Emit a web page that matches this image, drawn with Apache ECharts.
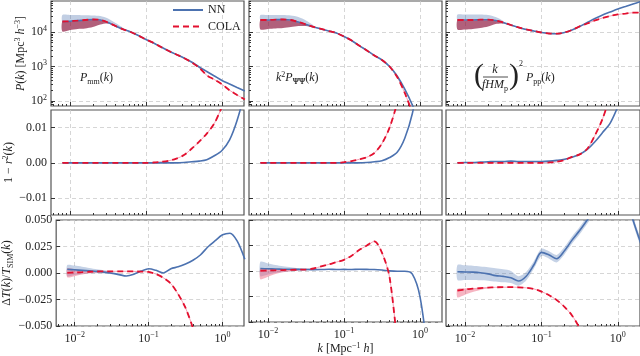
<!DOCTYPE html>
<html>
<head>
<meta charset="utf-8">
<script src="https://cdn.jsdelivr.net/npm/echarts@6/dist/echarts.min.js"></script>
<style>
  html, body { margin: 0; padding: 0; background: #fff; }
  #chart { width: 640px; height: 356px; }
</style>
</head>
<body>
<div id="chart"></div>
<script>
const SERIF = "'Liberation Serif', 'DejaVu Serif', serif";

// wavenumber grid (Mpc^-1 h)
const k = [0.00794, 0.01, 0.0126, 0.0158, 0.02, 0.0251, 0.0316, 0.0398, 0.0501, 0.0631,
  0.0794, 0.1, 0.126, 0.158, 0.2, 0.251, 0.316, 0.398, 0.501, 0.631, 0.794, 1, 1.26, 1.58, 2.0];

// tick values
const xMajor = [0.01, 0.1, 1];
const xMinor = [0.006, 0.007, 0.008, 0.009, 0.02, 0.03, 0.04, 0.05, 0.06, 0.07, 0.08, 0.09,
  0.2, 0.3, 0.4, 0.5, 0.6, 0.7, 0.8, 0.9];
const pMajor = [100, 1000, 10000];
const pMinor = [80, 90, 200, 300, 400, 500, 600, 700, 800, 900, 2000, 3000, 4000, 5000, 6000,
  7000, 8000, 9000, 20000, 30000, 40000, 50000, 60000, 70000, 80000];
const rTicks = [-0.01, 0, 0.01];
const tTicks = [-0.05, -0.025, 0, 0.025, 0.05];

// row 1: power spectra
const pmmNN = [20600, 21000, 21800, 22800, 23600, 22800, 19300, 15200, 12200, 10200, 8070, 6170,
  4880, 3730, 2860, 2260, 1790, 1360, 977, 723, 535, 395, 313, 247, 195];
const pmmCOLA = [20600, 21000, 21800, 22800, 23600, 22800, 19300, 15200, 12200, 10200, 8070, 6170,
  4880, 3730, 2860, 2260, 1790, 1340, 930, 560, 420, 305, 205, 150, 110];
const pmmNNHi = [31900, 31900, 31900, 31300, 30800, 29800, 25200, 18700, 13300];
const pmmCOLALo = [10550, 11700, 12500, 12900, 14300, 16900, 18000, 14300, 11700];

const ppsiNN = [22800, 22800, 23300, 23600, 22800, 19950, 16900, 14300, 12500, 10900, 9550, 7550,
  5770, 4110, 2960, 2110, 1560, 1010, 535, 223, 76.6, 20];
const ppsiCOLA = [22800, 22800, 23300, 23600, 22800, 19950, 16900, 14300, 12500, 10900, 9550, 7550,
  5770, 4110, 2960, 2110, 1560, 1010, 500, 171, 44.8, 10];
const ppsiNNHi = [31900, 31900, 31900, 31900, 30800, 27900, 22100, 15800];
const ppsiCOLALo = [12100, 12500, 12900, 13300, 14300, 15200, 15200, 13800];

const pppNN = [22800, 22800, 22800, 23300, 23300, 22100, 19300, 16300, 13800, 12100, 10900, 9860,
  9230, 9100, 9860, 11700, 14800, 19300, 25200, 31900, 39000, 47600, 56400, 66700, 78900];
const pppCOLA = [22800, 22800, 22800, 23300, 23300, 22100, 19300, 16300, 13800, 12100, 10900, 9860,
  9230, 9100, 9860, 11700, 14800, 18000, 22100, 26100, 29900, 33000, 35200, 37200, 37700];
const pppNNHi = [33000, 33000, 33000, 33000, 31900, 27900, 21300];
const pppCOLALo = [12100, 12100, 12500, 13300, 14800, 17500, 18000, 15800];

// row 2: 1 - r^2
const rmmNN = [0, 0, 0, 0, 0, 0, 0, 0, 0, 0, 0, 0, 0, 0, 0, 0, 0.0001, 0.0003, 0.0005, 0.0009,
  0.0020, 0.0035, 0.0065, 0.0120, 0.0200];
const rmmCOLA = [0, 0, 0, 0, 0, 0, 0, 0, 0, 0, 0, 0, 0.0001, 0.0003, 0.0006, 0.0012, 0.0022,
  0.0040, 0.0060, 0.0083, 0.0112, 0.0160, 0.0220];
const rpsiNN = [0, 0, 0, 0, 0, 0, 0, 0, 0, 0, 0, 0, 0, 0, 0.0001, 0.0003, 0.0006, 0.0015, 0.0030,
  0.0070, 0.0140, 0.0260];
const rpsiCOLA = [0, 0, 0, 0, 0, 0, 0, 0, 0, 0, 0, 0.0002, 0.0005, 0.0010, 0.0016, 0.0028, 0.0055,
  0.0100, 0.0170, 0.0260];
const rppNN = [0, 0.0001, 0.0001, 0.0002, 0.0003, 0.0004, 0.0004, 0.0005, 0.0004, 0.0004, 0.0004,
  0.0004, 0.0005, 0.0007, 0.0010, 0.0016, 0.0024, 0.0038, 0.0060, 0.0086, 0.0113, 0.0160, 0.0220];
const rppCOLA = [0, 0, 0, 0, 0, 0, 0, 0, 0, 0, 0, 0, 0.0001, 0.0003, 0.0008, 0.0017, 0.0024,
  0.0040, 0.0078, 0.0125, 0.0190];

// row 3: transfer function error
const tmmNN = [0.0035, 0.0030, 0.0025, 0.0020, 0.0015, 0.0008, -0.0002, -0.0015, -0.0028, -0.0012,
  0.0018, 0.0040, 0.0025, 0.0000, 0.0040, 0.0058, 0.0085, 0.0120, 0.0170, 0.0245, 0.0305, 0.0360,
  0.0375, 0.0300, 0.0130];
const tmmCOLA = [0.0002, 0.0005, 0.0008, 0.0012, 0.0014, 0.0015, 0.0016, 0.0016, 0.0016, 0.0015,
  0.0013, 0.0010, -0.0010, -0.0045, -0.0100, -0.0200, -0.0330, -0.0520, -0.0750];
const tmmNNLo = [-0.0030, -0.0020, -0.0010, -0.0003, -0.0003, -0.0005, -0.0012, -0.0022];
const tmmNNHi = [0.0075, 0.0070, 0.0060, 0.0048, 0.0035, 0.0025, 0.0010, -0.0008];
const tmmCOLALo = [-0.0040, -0.0030, -0.0015, -0.0003, 0.0005, 0.0010];
const tmmCOLAHi = [0.0045, 0.0035, 0.0025, 0.0022, 0.0020, 0.0019];

const tpsiNN = [0.0025, 0.0022, 0.0020, 0.0018, 0.0017, 0.0016, 0.0015, 0.0014, 0.0015, 0.0017,
  0.0015, 0.0016, 0.0015, 0.0018, 0.0016, 0.0015, 0.0010, 0.0002, -0.0002, -0.0002, -0.0030,
  -0.0250, -0.0800];
const tpsiCOLA = [0.0003, 0.0006, 0.0008, 0.0010, 0.0012, 0.0013, 0.0015, 0.0025, 0.0045, 0.0065,
  0.0088, 0.0110, 0.0150, 0.0205, 0.0250, 0.0290, 0.0180, -0.0060, -0.0700];
const tpsiNNLo = [-0.0050, -0.0035, -0.0020, -0.0010, -0.0003, 0.0002, 0.0005, 0.0008];
const tpsiNNHi = [0.0090, 0.0075, 0.0060, 0.0048, 0.0038, 0.0030, 0.0025, 0.0020];
const tpsiCOLALo = [-0.0080, -0.0055, -0.0030, -0.0012, -0.0002, 0.0005];
const tpsiCOLAHi = [0.0025, 0.0022, 0.0020, 0.0018, 0.0017, 0.0018];

const tppNN = [0.0012, 0.0010, 0.0008, 0.0003, -0.0008, -0.0025, -0.0032, -0.0045, -0.0075, -0.0030,
  0.0075, 0.0195, 0.0170, 0.0135, 0.0210, 0.0310, 0.0400, 0.0500, 0.0600, 0.0700, 0.0800, 0.0850,
  0.0750, 0.0500, 0.0280];
const tppCOLA = [-0.0165, -0.0155, -0.0148, -0.0142, -0.0138, -0.0135, -0.0134, -0.0134, -0.0135,
  -0.0140, -0.0150, -0.0175, -0.0210, -0.0255, -0.0320, -0.0400, -0.0520, -0.0680];
const tppNNLo = [-0.0065, -0.0066, -0.0066, -0.0068, -0.0072, -0.0080, -0.0088, -0.0095, -0.0120,
  -0.0070, 0.0040, 0.0160, 0.0135, 0.0100, 0.0175, 0.0275, 0.0365, 0.0465, 0.0565, 0.0665, 0.0765,
  0.0815, 0.0715, 0.0465, 0.0250];
const tppNNHi = [0.0075, 0.0072, 0.0068, 0.0062, 0.0055, 0.0045, 0.0035, 0.0020, -0.0030, 0.0010,
  0.0110, 0.0230, 0.0205, 0.0170, 0.0245, 0.0345, 0.0435, 0.0535, 0.0635, 0.0735, 0.0835, 0.0885,
  0.0785, 0.0535, 0.0310];
const tppCOLALo = [-0.0230, -0.0205, -0.0180, -0.0160, -0.0145];
const tppCOLAHi = [-0.0150, -0.0145, -0.0142, -0.0138, -0.0135];

const panels = [
  [
    { nn: pmmNN, cola: pmmCOLA, nnBand: [pmmNN.slice(0, pmmNNHi.length), pmmNNHi], colaBand: [pmmCOLALo, pmmCOLA.slice(0, pmmCOLALo.length)] },
    { nn: ppsiNN, cola: ppsiCOLA, nnBand: [ppsiNN.slice(0, ppsiNNHi.length), ppsiNNHi], colaBand: [ppsiCOLALo, ppsiCOLA.slice(0, ppsiCOLALo.length)] },
    { nn: pppNN, cola: pppCOLA, nnBand: [pppNN.slice(0, pppNNHi.length), pppNNHi], colaBand: [pppCOLALo, pppCOLA.slice(0, pppCOLALo.length)] }
  ],
  [
    { nn: rmmNN, cola: rmmCOLA },
    { nn: rpsiNN, cola: rpsiCOLA },
    { nn: rppNN, cola: rppCOLA }
  ],
  [
    { nn: tmmNN, cola: tmmCOLA, nnBand: [tmmNNLo, tmmNNHi], colaBand: [tmmCOLALo, tmmCOLAHi] },
    { nn: tpsiNN, cola: tpsiCOLA, nnBand: [tpsiNNLo, tpsiNNHi], colaBand: [tpsiCOLALo, tpsiCOLAHi] },
    { nn: tppNN, cola: tppCOLA, nnBand: [tppNNLo, tppNNHi], colaBand: [tppCOLALo, tppCOLAHi] }
  ]
];

// layout
const colLeft = [51, 249, 446];
const colWidth = [193, 193, 194];
const rowTop = [1, 110, 220];
const rowHeight = [105, 105, 106];
const xMin = 0.005623, xMax = 1.95;

const BLUE = '#4c72b0', RED = '#e3102f', PINK = '#f5a0b4';
const nnBandColor = ['rgba(76,114,176,0.35)', null, 'rgba(76,114,176,0.32)'];
const colaBandColor = ['rgba(140,20,60,0.68)', null, 'rgba(235,90,120,0.45)'];

const rich = {
  s: { fontSize: 8, fontFamily: SERIF, padding: [0, 0, 7, 0], color: '#222' },
  sb: { fontSize: 8, fontFamily: SERIF, padding: [7, 0, 0, 0], color: '#222' },
  sbb: { fontSize: 8, fontFamily: SERIF, fontWeight: 'bold', padding: [7, 0, 0, 0], color: '#222' },
  i: { fontSize: 12, fontFamily: SERIF, fontStyle: 'italic', color: '#222' }
};
const minus = s => s.replace('-', '\u2212');
const expLabel = v => '10{s|' + minus(String(Math.round(Math.log10(v)))) + '}';

const grids = [], xAxes = [], yAxes = [], xMinorAxes = [], yMinorAxes = [], series = [];
const gridLine = { show: true, lineStyle: { color: '#cccccc', type: [4, 3], width: 0.8 } };
const tickStyle = { color: '#333', width: 1 };

const yNames = [
  '{i|P}({i|k}) [Mpc{s|3} {i|h}{s|\u22123}]',
  '1 \u2212 {i|r}{s|2}({i|k})',
  '\u0394{i|T}({i|k})/{i|T}{sb|SIM}({i|k})'
];
const yNameGap = [12, 29, 29];

const pts = arr => arr.map((v, i) => [k[i], v]);

for (let r = 0; r < 3; r++) {
  for (let c = 0; c < 3; c++) {
    const gi = r * 3 + c;
    grids.push({
      left: colLeft[c], top: rowTop[r], width: colWidth[c], height: rowHeight[r],
      show: true, borderColor: '#555', borderWidth: 1.2
    });
    xAxes.push({
      type: 'log', gridIndex: gi, min: xMin, max: xMax, position: 'bottom',
      axisLine: { show: false, onZero: false },
      axisTick: { inside: true, length: 4, customValues: xMajor, lineStyle: tickStyle },
      axisLabel: {
        show: r === 2, customValues: xMajor, formatter: expLabel, margin: 5,
        fontFamily: SERIF, fontSize: 12, color: '#222', rich: rich
      },
      splitLine: gridLine,
      name: (r === 2 && c === 1) ? '{i|k} [Mpc{s|\u22121} {i|h}]' : '',
      nameLocation: 'middle', nameGap: 19,
      nameTextStyle: { fontFamily: SERIF, fontSize: 12, color: '#222', rich: rich }
    });
    xMinorAxes.push({
      type: 'log', gridIndex: gi, min: xMin, max: xMax, position: 'bottom',
      axisLine: { show: false, onZero: false },
      axisTick: { inside: true, length: 2, customValues: xMinor, lineStyle: tickStyle },
      axisLabel: { show: false }, splitLine: { show: false }
    });

    const yBase = {
      gridIndex: gi, position: 'left',
      axisLine: { show: false, onZero: false },
      splitLine: gridLine,
      name: c === 0 ? yNames[r] : '', nameLocation: 'middle', nameGap: yNameGap[r],
      nameTextStyle: { fontFamily: SERIF, fontSize: 12, color: '#222', rich: rich }
    };
    const labelBase = { show: c === 0, margin: 4, fontFamily: SERIF, fontSize: 12, color: '#222', rich: rich };
    if (r === 0) {
      yAxes.push(Object.assign({}, yBase, {
        type: 'log', min: 71.4, max: 81500,
        axisTick: { inside: true, length: 4, customValues: pMajor, lineStyle: tickStyle },
        axisLabel: Object.assign({}, labelBase, { customValues: pMajor, formatter: expLabel })
      }));
      yMinorAxes.push({
        type: 'log', gridIndex: gi, min: 71.4, max: 81500, position: 'left',
        axisLine: { show: false, onZero: false },
        axisTick: { inside: true, length: 2, customValues: pMinor, lineStyle: tickStyle },
        axisLabel: { show: false }, splitLine: { show: false }
      });
    } else if (r === 1) {
      yAxes.push(Object.assign({}, yBase, {
        type: 'value', min: -0.0148, max: 0.015,
        axisTick: { inside: true, length: 4, customValues: rTicks, lineStyle: tickStyle },
        axisLabel: Object.assign({}, labelBase, {
          customValues: rTicks,
          formatter: v => minus((Math.abs(v) < 1e-9 ? 0 : v).toFixed(2))
        })
      }));
    } else {
      yAxes.push(Object.assign({}, yBase, {
        type: 'value', min: -0.05, max: 0.05, interval: 0.025,
        axisTick: { inside: true, length: 4, customValues: tTicks, lineStyle: tickStyle },
        axisLabel: Object.assign({}, labelBase, {
          customValues: tTicks,
          formatter: v => minus((Math.abs(v) < 1e-9 ? 0 : v).toFixed(3))
        })
      }));
    }

    const p = panels[r][c];
    const common = {
      type: 'line', xAxisIndex: gi, yAxisIndex: gi, symbol: 'none', smooth: 0.3,
      animation: false, silent: true, emphasis: { disabled: true }
    };
    // shaded scatter band between lo and hi, placed through the axes' own scales
    const addBand = (band, color) => {
      if (!band) return;
      const [lo, hi] = band;
      series.push({
        type: 'custom', name: 'band', xAxisIndex: gi, yAxisIndex: gi, clip: true, silent: true, z: 1,
        animation: false,
        data: lo.map((v, i) => [k[i], v, hi[i]]),
        encode: { x: 0, y: [1, 2] },
        renderItem: (params, api) => {
          if (params.dataIndex !== 0) return null;
          const poly = lo.map((v, i) => api.coord([k[i], v]))
            .concat(hi.map((v, i) => api.coord([k[i], v])).reverse());
          return { type: 'polygon', shape: { points: poly, smooth: 0.25 }, style: { fill: color } };
        }
      });
    };
    addBand(p.nnBand, nnBandColor[r]);
    addBand(p.colaBand, colaBandColor[r]);
    series.push(Object.assign({}, common, {
      name: 'colaline', data: pts(p.cola), lineStyle: { color: PINK, width: 1 }, z: 2
    }));
    series.push(Object.assign({}, common, {
      name: 'NN', data: pts(p.nn), color: BLUE, lineStyle: { color: BLUE, width: 1.6 }, z: 3
    }));
    series.push(Object.assign({}, common, {
      name: 'COLA', data: pts(p.cola), color: RED, lineStyle: { color: RED, width: 1.8, type: [6, 4] }, z: 4
    }));
  }
}

const txt = (x, y, text, extra) => ({
  type: 'text', x: x, y: y, z: 50,
  style: Object.assign({
    text: text, fill: '#222', fontFamily: SERIF, fontSize: 12,
    align: 'left', verticalAlign: 'middle', rich: rich
  }, extra || {})
});

const chart = echarts.init(document.getElementById('chart'));
chart.setOption({
  animation: false,
  backgroundColor: '#fff',
  grid: grids,
  xAxis: xAxes.concat(xMinorAxes),
  yAxis: yAxes.concat(yMinorAxes),
  legend: {
    data: ['NN', 'COLA'], orient: 'vertical', left: 172, top: 4, padding: 0,
    itemWidth: 30, itemHeight: 10, itemGap: 4.5,
    itemStyle: { opacity: 0 },
    textStyle: { fontFamily: SERIF, fontSize: 12, color: '#222' }
  },
  graphic: [
    txt(80, 78, '{i|P}{sb|mm}({i|k})'),
    txt(276, 78, '{i|k}{s|2}{i|P}{sbb|\u03a8\u03a8}({i|k})'),
    txt(474, 76, '(', { fontSize: 30, fontWeight: 'normal' }),
    txt(495, 70, 'k', { fontStyle: 'italic', align: 'center' }),
    { type: 'line', z: 50, shape: { x1: 483, y1: 77, x2: 508, y2: 77 }, style: { stroke: '#222', lineWidth: 0.8 } },
    txt(495, 85, '{i|fHM}{sb|p}', { align: 'center' }),
    txt(509, 76, ')', { fontSize: 30 }),
    txt(519, 64, '2', { fontSize: 8 }),
    txt(526, 78, '{i|P}{sb|pp}({i|k})')
  ],
  series: series
});
</script>
</body>
</html>
